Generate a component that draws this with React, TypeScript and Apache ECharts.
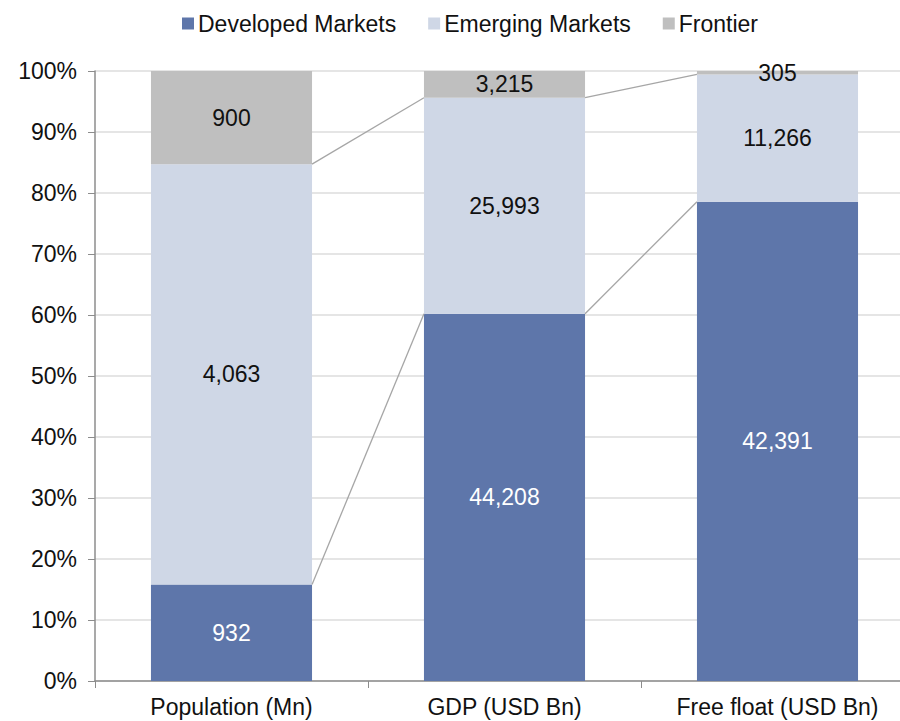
import React, { useEffect, useRef } from "react";
import * as echarts from "echarts";

const categories = ["Population (Mn)", "GDP (USD Bn)", "Free float (USD Bn)"];
const developed = [932, 44208, 42391];
const emerging = [4063, 25993, 11266];
const frontier = [900, 3215, 305];
const yTicks = [0, 10, 20, 30, 40, 50, 60, 70, 80, 90, 100];

const COLORS = { dm: "#5e76aa", em: "#cfd7e6", fr: "#bfbfbf" };
const FONT = "'Liberation Sans', Arial, sans-serif";
const BAR_RATIO = 0.59;
const FS = 23;

export default function App() {
  const ref = useRef<HTMLDivElement>(null);
  useEffect(() => {
    if (!ref.current) return;
    const chart = echarts.init(ref.current, undefined, { renderer: "svg" });
    const totals = categories.map((_, i) => developed[i] + emerging[i] + frontier[i]);
    const pct = (arr: number[]) => arr.map((v, i) => (v / totals[i]) * 100);
    const dmPct = pct(developed);
    const emPct = pct(emerging);
    const frPct = pct(frontier);
    const fmt = (v: number) => v.toLocaleString("en-US");

    const mk = (name: string, p: number[], raw: number[], color: string, labelColor: string) => ({
      name,
      type: "bar",
      stack: "total",
      barWidth: `${BAR_RATIO * 100}%`,
      itemStyle: { color },
      data: p,
      label: {
        show: true,
        position: "inside",
        color: labelColor,
        fontFamily: FONT,
        fontSize: FS,
        formatter: (pr: any) => fmt(raw[pr.dataIndex]),
      },
      emphasis: { disabled: true },
    });

    const connectors = [0, 1].map((i) => [
      i,
      dmPct[i],
      dmPct[i + 1],
      dmPct[i] + emPct[i],
      dmPct[i + 1] + emPct[i + 1],
    ]);

    chart.setOption({
      animation: false,
      textStyle: { fontFamily: FONT },
      legend: {
        top: 7,
        left: 177,
        itemWidth: 12,
        itemHeight: 12,
        itemGap: 32,
        icon: "rect",
        textStyle: { fontSize: FS, color: "#111", fontFamily: FONT, padding: [0, 0, 0, -1] },
        data: ["Developed Markets", "Emerging Markets", "Frontier"],
      },
      grid: { left: 95, top: 71, width: 819, height: 610, outerBoundsMode: "none", containLabel: false },
      xAxis: {
        type: "category",
        data: categories,
        axisLine: { lineStyle: { color: "#8c8c8c", width: 1.5 } },
        axisTick: { show: true, length: 7, lineStyle: { color: "#8c8c8c" } },
        axisLabel: { color: "#111", fontSize: FS, margin: 14, fontFamily: FONT },
      },
      yAxis: {
        type: "value",
        min: yTicks[0],
        max: yTicks[yTicks.length - 1],
        interval: 10,
        axisLine: { show: true, lineStyle: { color: "#8c8c8c", width: 1.5 } },
        axisTick: { show: true, length: 7, lineStyle: { color: "#8c8c8c" } },
        axisLabel: { color: "#111", fontSize: FS, margin: 18, formatter: "{value}%", fontFamily: FONT },
        splitLine: { lineStyle: { color: "#dcdcdc", width: 1.5 } },
      },
      series: [
        mk("Developed Markets", dmPct, developed, COLORS.dm, "#ffffff"),
        mk("Emerging Markets", emPct, emerging, COLORS.em, "#111"),
        mk("Frontier", frPct, frontier, COLORS.fr, "#111"),
        {
          type: "custom",
          name: "connectors",
          silent: true,
          z: 5,
          encode: { x: 0, y: 1 },
          data: connectors,
          renderItem: (_params: any, api: any) => {
            const i = api.value(0);
            const half = (api.size([1, 0])[0] * BAR_RATIO) / 2;
            const lines = [
              [api.value(1), api.value(2)],
              [api.value(3), api.value(4)],
            ].map(([a, b]) => {
              const p1 = api.coord([i, a]);
              const p2 = api.coord([i + 1, b]);
              return {
                type: "line",
                shape: { x1: p1[0] + half, y1: p1[1], x2: p2[0] - half, y2: p2[1] },
                style: { stroke: "#a6a6a6", lineWidth: 1.3 },
              };
            });
            return { type: "group", children: lines };
          },
        },
      ],
    });
    return () => chart.dispose();
  }, []);
  return (
    <div
      ref={ref}
      style={{ position: "fixed", left: 0, top: 0, width: 900, height: 721, background: "#fff" }}
    />
  );
}
